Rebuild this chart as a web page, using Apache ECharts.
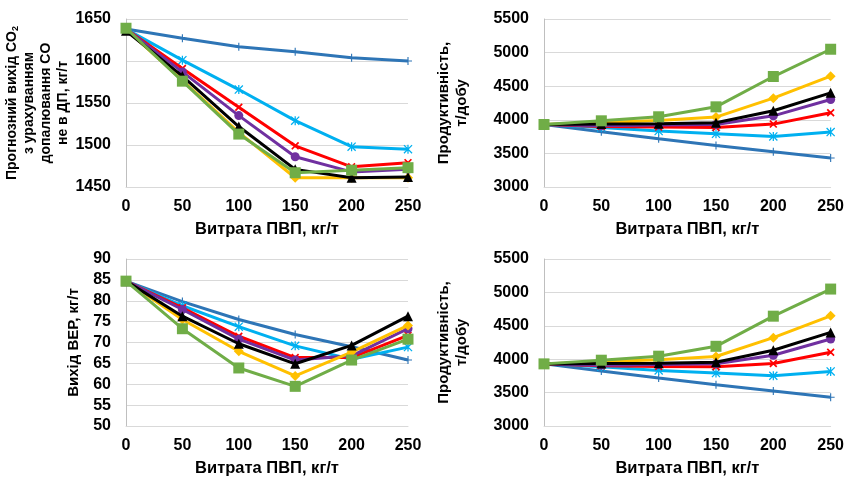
<!DOCTYPE html>
<html>
<head>
<meta charset="utf-8">
<script src="https://cdn.jsdelivr.net/npm/echarts@6/dist/echarts.min.js"></script>
<style>
html,body{margin:0;padding:0;background:#fff;}
#c{width:847px;height:478px;}
</style>
</head>
<body>
<div id="c"></div>
<script>
// ---- Data ----
const pvpFlow = [0, 50, 100, 150, 200, 250];
const seriesKeys = ['blue', 'lightblue', 'red', 'purple', 'yellow', 'black', 'green'];

// Predicted CO2 output, kg/t
const co2Blue      = [1638, 1627, 1617, 1611, 1604, 1600];
const co2LightBlue = [1638, 1601, 1566, 1529, 1498, 1495];
const co2Red       = [1638, 1591, 1545, 1499, 1474, 1479];
const co2Purple    = [1638, 1587, 1535, 1486, 1468, 1471];
const co2Yellow    = [1638, 1577, 1515, 1461, 1461, 1461];
const co2Black     = [1636, 1582, 1522, 1471, 1461, 1462];
const co2Green     = [1639, 1576, 1513, 1467, 1470, 1473];

// Productivity, t/day
const prodBlue      = [3930, 3822, 3718, 3619, 3525, 3431];
const prodLightBlue = [3930, 3886, 3832, 3792, 3752, 3817];
const prodRed       = [3930, 3901, 3891, 3886, 3936, 4104];
const prodPurple    = [3930, 3911, 3921, 3931, 4059, 4302];
const prodYellow    = [3930, 3960, 3990, 4040, 4322, 4649];
const prodBlack     = [3930, 3936, 3941, 3955, 4134, 4401];
const prodGreen     = [3930, 3985, 4045, 4193, 4644, 5050];

// Secondary energy resources output, kg/t
const verBlue      = [84.7, 79.8, 75.5, 71.9, 69.0, 65.8];
const verLightBlue = [84.7, 78.8, 73.8, 69.2, 66.0, 68.9];
const verRed       = [84.7, 78.3, 71.5, 66.4, 66.4, 71.7];
const verPurple    = [84.7, 77.9, 70.8, 65.8, 66.8, 73.3];
const verYellow    = [84.7, 75.5, 67.9, 62.0, 67.7, 74.1];
const verBlack     = [84.7, 76.3, 69.7, 64.9, 69.3, 76.3];
const verGreen     = [84.7, 73.3, 63.9, 59.5, 65.8, 70.8];

const xTitle = 'Витрата ПВП, кг/т';

// ---- Styles ----
const FONT = "'Liberation Sans', Arial, sans-serif";
const colors = {
  blue: '#2E75B6', lightblue: '#00B0F0', red: '#FF0000', purple: '#7030A0',
  yellow: '#FFC000', black: '#000000', green: '#70AD47'
};
const PLUS = 'path://M0,4.3H10V5.7H0Z M4.3,0H5.7V10H4.3Z';
const STAR = 'path://M0,1L1,0L10,9L9,10Z M9,0L10,1L1,10L0,9Z M4.3,0H5.7V10H4.3Z';
const CROSS = 'path://M0,1.5L1.5,0L10,8.5L8.5,10Z M8.5,0L10,1.5L1.5,10L0,8.5Z';
const symbols = {
  blue: [PLUS, 8], lightblue: [STAR, 9], red: [CROSS, 8], purple: ['circle', 9],
  yellow: ['diamond', 10], black: ['triangle', 10], green: ['rect', 11]
};

const panels = [
  {data: [co2Blue, co2LightBlue, co2Red, co2Purple, co2Yellow, co2Black, co2Green],
   min: 1450, max: 1650, interval: 50, left: 126, top: 19, width: 282,
   name: '{b|Прогнозний вихід CO}{s|2}\n{b|з урахуванням}\n{b|допалювання CO}\n{b|не в ДП, кг/т}',
   nameGap: 50, nameSize: 14, nameLH: 17},
  {data: [prodBlue, prodLightBlue, prodRed, prodPurple, prodYellow, prodBlack, prodGreen],
   min: 3000, max: 5500, interval: 500, left: 544, top: 19, width: 291,
   name: '{b|Продуктивність,}\n{b|т/добу}', nameGap: 73, nameSize: 15, nameLH: 18},
  {data: [verBlue, verLightBlue, verRed, verPurple, verYellow, verBlack, verGreen],
   min: 50, max: 90, interval: 5, left: 126, top: 259, width: 282,
   name: '{b|Вихід ВЕР, кг/т}', nameGap: 43, nameSize: 15, nameLH: 18},
  {data: [prodBlue, prodLightBlue, prodRed, prodPurple, prodYellow, prodBlack, prodGreen],
   min: 3000, max: 5500, interval: 500, left: 544, top: 259, width: 291,
   name: '{b|Продуктивність,}\n{b|т/добу}', nameGap: 73, nameSize: 15, nameLH: 18}
];

const grid = [], xAxis = [], yAxis = [], series = [];
panels.forEach((p, i) => {
  grid.push({left: p.left, top: p.top, width: p.width, height: 168, containLabel: false});
  xAxis.push({
    type: 'value', gridIndex: i, min: 0, max: 250, interval: 50,
    name: xTitle, nameLocation: 'middle', nameGap: 34,
    nameTextStyle: {fontFamily: FONT, fontWeight: 'bold', fontSize: 16.5, color: '#000'},
    axisLine: {show: true, lineStyle: {color: '#D9D9D9', width: 1}},
    axisTick: {show: false},
    splitLine: {show: false},
    axisLabel: {fontFamily: FONT, fontWeight: 'bold', fontSize: 16, color: '#000', margin: 12,
                formatter: v => String(v)}
  });
  yAxis.push({
    type: 'value', gridIndex: i, min: p.min, max: p.max, interval: p.interval,
    name: p.name, nameLocation: 'middle', nameGap: p.nameGap, nameRotate: 90,
    nameTextStyle: {
      fontFamily: FONT, fontWeight: 'bold', fontSize: p.nameSize, color: '#000', lineHeight: p.nameLH,
      rich: {
        b: {fontFamily: FONT, fontWeight: 'bold', fontSize: p.nameSize, color: '#000', lineHeight: p.nameLH},
        s: {fontFamily: FONT, fontWeight: 'bold', fontSize: 9, color: '#000', lineHeight: p.nameLH, verticalAlign: 'bottom', padding: [5, 0, 0, 0]}
      }
    },
    axisLine: {show: true, lineStyle: {color: '#BFBFBF', width: 1}},
    axisTick: {show: false},
    splitLine: {show: true, lineStyle: {color: '#D9D9D9', width: 1}},
    axisLabel: {fontFamily: FONT, fontWeight: 'bold', fontSize: 16, color: '#000', margin: 15,
                formatter: v => String(v)}
  });
  p.data.forEach((vals, k) => {
    const key = seriesKeys[k];
    series.push({
      type: 'line', xAxisIndex: i, yAxisIndex: i,
      data: pvpFlow.map((x, j) => [x, vals[j]]),
      symbol: symbols[key][0], symbolSize: symbols[key][1],
      showAllSymbol: true,
      lineStyle: {color: colors[key], width: 3},
      itemStyle: {color: colors[key], borderWidth: 0},
      z: 2 + k,
      animation: false
    });
  });
});

const chart = echarts.init(document.getElementById('c'), null, {renderer: 'canvas'});
chart.setOption({animation: false, grid, xAxis, yAxis, series});
</script>
</body>
</html>
